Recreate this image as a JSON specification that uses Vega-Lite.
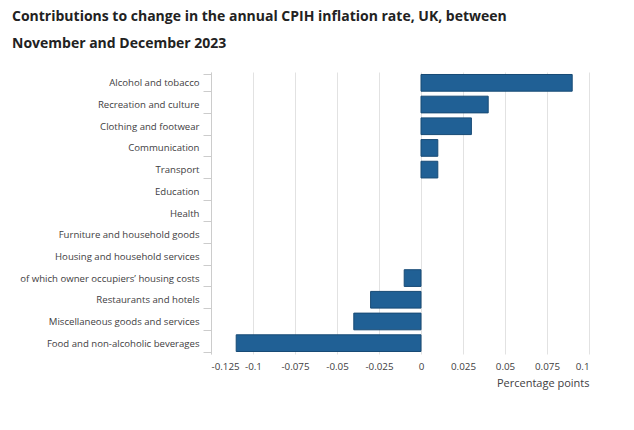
{
  "$schema": "https://vega.github.io/schema/vega-lite/v6.json",
  "width": 378,
  "height": 282,
  "autosize": "none",
  "padding": {"left": 211, "top": 72, "right": 45, "bottom": 76},
  "background": "white",
  "title": {
    "text": ["Contributions to change in the annual CPIH inflation rate, UK, between", "November and December 2023"],
    "anchor": "start",
    "frame": "group",
    "dx": -199,
    "offset": 16,
    "font": "Open Sans",
    "fontSize": 14,
    "fontWeight": "bold",
    "color": "#222222",
    "lineHeight": 27
  },
  "data": {
    "values": [
      {"category": "Alcohol and tobacco", "value": 0.09},
      {"category": "Recreation and culture", "value": 0.04},
      {"category": "Clothing and footwear", "value": 0.03},
      {"category": "Communication", "value": 0.01},
      {"category": "Transport", "value": 0.01},
      {"category": "Education", "value": 0},
      {"category": "Health", "value": 0},
      {"category": "Furniture and household goods", "value": 0},
      {"category": "Housing and household services", "value": 0},
      {"category": "of which owner occupiers’ housing costs", "value": -0.01},
      {"category": "Restaurants and hotels", "value": -0.03},
      {"category": "Miscellaneous goods and services", "value": -0.04},
      {"category": "Food and non-alcoholic beverages", "value": -0.11}
    ]
  },
  "mark": {"type": "bar", "color": "#206095", "stroke": "#174a75", "strokeWidth": 1},
  "encoding": {
    "y": {
      "field": "category",
      "type": "nominal",
      "sort": null,
      "scale": {"paddingInner": 0.23, "paddingOuter": 0.115},
      "axis": {
        "title": null,
        "domain": true,
        "domainColor": "#cccccc",
        "ticks": true,
        "tickColor": "#cccccc",
        "tickBand": "extent",
        "tickSize": 8,
        "labelPadding": 4,
        "labelLimit": 300,
        "labelFont": "Open Sans",
        "labelFontSize": 9.6,
        "labelColor": "#414042",
        "grid": false
      }
    },
    "x": {
      "field": "value",
      "type": "quantitative",
      "scale": {"domain": [-0.125, 0.1], "nice": false, "zero": false},
      "axis": {
        "title": "Percentage points",
        "titleAnchor": "end",
        "titleAlign": "right",
        "titleFont": "Open Sans",
        "titleFontSize": 11,
        "titleFontWeight": "normal",
        "titleColor": "#414042",
        "titlePadding": 7,
        "values": [-0.125, -0.1, -0.075, -0.05, -0.025, 0, 0.025, 0.05, 0.075, 0.1],
        "labelExpr": "toString(datum.value)",
        "labelFont": "Open Sans",
        "labelFontSize": 9.8,
        "labelColor": "#414042",
        "labelPadding": 7,
        "labelOverlap": false,
        "domain": false,
        "ticks": false,
        "grid": true,
        "gridColor": "#e2e2e2"
      }
    },
    "strokeOpacity": {
      "condition": {"test": "datum.value === 0", "value": 0},
      "value": 1
    }
  },
  "config": {"view": {"stroke": null}}
}
